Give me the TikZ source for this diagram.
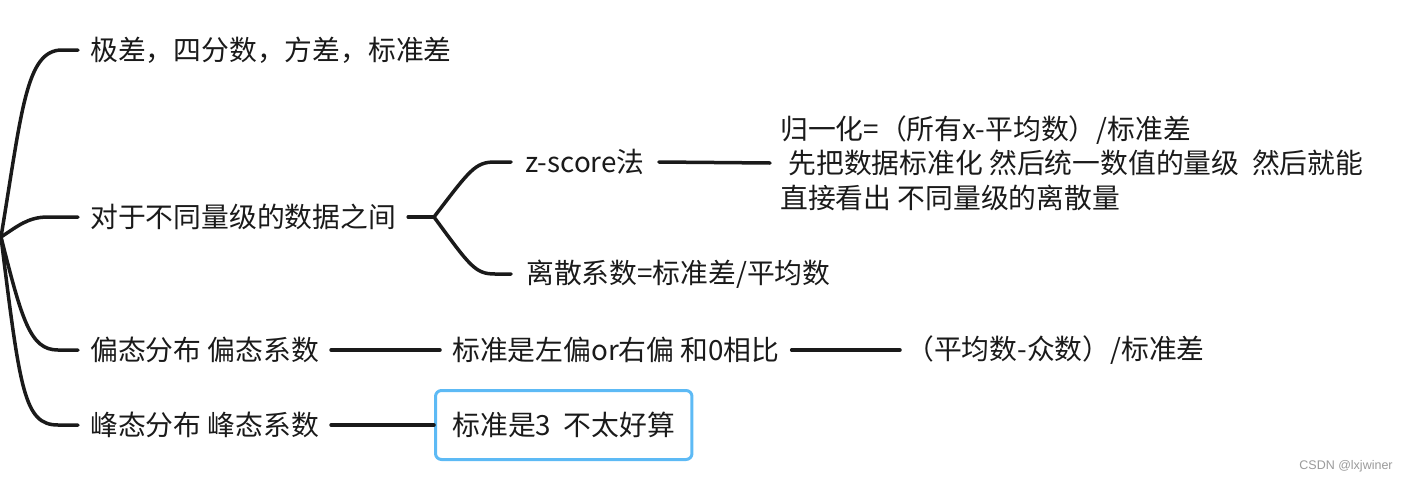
\documentclass[tikz,border=0pt]{standalone}
\usepackage{fontspec}
\setmainfont{Noto Sans CJK SC}
\newfontfamily\wmfont{Liberation Sans}
\definecolor{ink}{HTML}{1A1A1A}
\definecolor{boxblue}{HTML}{5DBAF5}
\definecolor{wm}{HTML}{9A9A9A}
\begin{document}
\begin{tikzpicture}[x=1pt,y=-1pt,
  txt/.style={anchor=west,inner ysep=2pt,inner xsep=12pt,font=\fontsize{27.8}{34.5}\selectfont,text=ink},
  conn/.style={draw=ink,line width=3.5pt,line cap=round},
  hlbox/.style={draw=boxblue,line width=3pt,rounded corners=6pt,minimum height=69pt}]
\useasboundingbox (0,0) rectangle (1410,482);
\coordinate (root) at (1,237);
\node[txt] (n1) at (78,50) {极差，四分数，方差，标准差};
\node[txt] (n2) at (78,217) {对于不同量级的数据之间};
\node[txt] (n3) at (78,350) {偏态分布 偏态系数};
\node[txt] (n4) at (78,425) {峰态分布 峰态系数};
\coordinate (fork) at (434,217);
\node[txt,inner xsep=14pt] (z) at (511,162) {z-score法};
\node[txt,inner xsep=15pt] (cv) at (511,274) {离散系数=标准差/平均数};
\node[txt,inner xsep=10pt,align=left] (zd) at (770,163) {归一化=（所有x-平均数）/标准差\\\hspace*{0.3em}先把数据标准化 然后统一数值的量级\ \ 然后就能\\直接看出 不同量级的离散量};
\node[txt] (s1) at (440,350) {标准是左偏or右偏 和0相比};
\node[txt,inner xsep=6pt] (s2) at (900,350) {（平均数-众数）/标准差};
\node[txt,hlbox,inner xsep=17pt] (k1) at (434,425) {标准是3\ \ 不太好算};
\node[font=\wmfont\fontsize{12.5}{15}\selectfont,text=wm] (wmk) at (1346,466) {CSDN @lxjwiner};

\draw[conn] (root) .. controls (22,110) and (26,50) .. (62,50) -- (n1.west);
\draw[conn] (root) .. controls (18,226) and (28,217) .. (48,217) -- (n2.west);
\draw[conn] (root) .. controls (22,320) and (30,350) .. (58,350) -- (n3.west);
\draw[conn] (root) .. controls (20,390) and (24,425) .. (58,425) -- (n4.west);
\draw[conn] (n2.east) -- (fork);
\draw[conn] (fork) .. controls (470,170) and (475,162) .. (495,162) -- (z.west);
\draw[conn] (fork) .. controls (470,266) and (475,274) .. (495,274) -- (cv.west);
\draw[conn] (z.east) -- (zd.west);
\draw[conn] (n3.east) -- (s1.west);
\draw[conn] (s1.east) -- (s2.west);
\draw[conn] (n4.east) -- (k1.west);
\end{tikzpicture}
\end{document}
